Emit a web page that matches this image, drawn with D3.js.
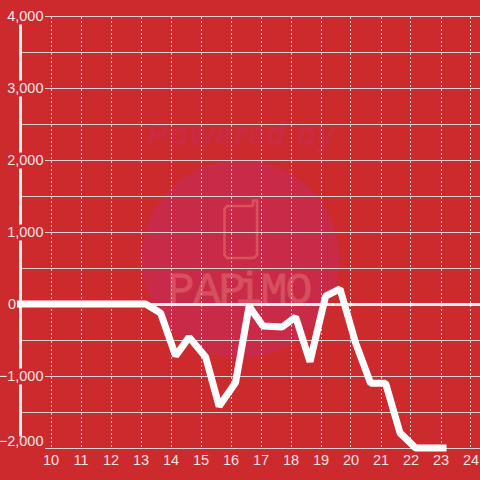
<!DOCTYPE html>
<html><head><meta charset="utf-8">
<script src="https://cdnjs.cloudflare.com/ajax/libs/d3/7.8.5/d3.min.js"></script>
<style>html,body{margin:0;padding:0;background:#cc2a2d}svg{display:block}</style>
</head><body><div id="c"></div>
<script>
const times=[8.88,9.67,10.17,10.67,11.17,11.67,12.17,12.67,13.17,13.67,14.17,14.62,15.17,15.62,16.17,16.62,17.08,17.72,18.17,18.65,19.17,19.65,20.17,20.67,21.17,21.65,22.17,22.67,23.2];
const values=[0,0,0,0,0,0,0,0,0,-125,-720,-460,-735,-1420,-1090,-30,-305,-320,-180,-800,110,210,-540,-1100,-1100,-1790,-2000,-2000,-2000];
const xTicks=[10,11,12,13,14,15,16,17,18,19,20,21,22,23,24];
const yLabelled=[4000,3000,2000,1000,0,-1000,-2000];
const yGrid=[3500,2500,1500,500,-500,-1500];
const watermarkTop="Powered by", watermarkName="PAPiMO";
const nameCentres=[181,207,232,249,274,299];
const BG="#cc2a2d",GRID="#d3d3cf",TXT="#f8e4e4",SANS="'Liberation Sans',Arial,sans-serif";
const W=480,H=480;
const x=d3.scaleLinear().domain([9,24.67]).range([20.5,490.6]);
const y=d3.scaleLinear().domain([-2000,4000]).range([448,16]);
const svg=d3.select("#c").append("svg").attr("width",W).attr("height",H);
svg.append("rect").attr("width",W).attr("height",H).attr("fill",BG);

// watermark
const wm=svg.append("g");
wm.append("text").attr("x",241).attr("y",145).attr("text-anchor","middle").attr("font-size",31).attr("font-weight","bold").attr("font-style","italic").style("font-family",SANS).attr("fill","#ca2a42").attr("textLength",187).text(watermarkTop);
wm.append("circle").attr("cx",240.5).attr("cy",259).attr("r",99).attr("fill","#c92a47");
wm.append("path").attr("d",d3.line()([[253,206],[253,200.5],[257,200.5],[257,255],[254,258],[227,258],[224.5,255],[224.5,209],[227,206],[253,206]])).attr("fill","none").attr("stroke","#d9535f").attr("stroke-width",2.5);
wm.append("text").attr("x",nameCentres.join(" ")).attr("y",303).attr("text-anchor","middle").attr("font-size",45).style("font-family","'Liberation Mono',monospace").attr("fill","#d6505f").attr("stroke","#d6505f").attr("stroke-width",0.8).text(watermarkName);

// grid
svg.append("g").selectAll("line").data(xTicks).join("line").attr("x1",d=>Math.round(x(d))+.5).attr("x2",d=>Math.round(x(d))+.5).attr("y1",17).attr("y2",448).attr("stroke",GRID).attr("stroke-dasharray","2,2");
const hg=svg.append("g");
hg.selectAll("line").data(yGrid.concat(yLabelled.filter(d=>d!==0))).join("line").attr("x1",21).attr("x2",W).attr("y1",d=>Math.round(y(d))+.5).attr("y2",d=>Math.round(y(d))+.5).attr("stroke",GRID);

// baselines
svg.append("rect").attr("x",19).attr("y",16).attr("width",3).attr("height",432).attr("fill","#f6efef");
svg.append("rect").attr("x",20).attr("y",303).attr("width",460).attr("height",3).attr("fill","#f6efef");

// axes
const ya=svg.append("g").attr("transform","translate(43.5,0)").call(d3.axisLeft(y).tickValues(yLabelled).tickFormat(d3.format(",")).tickSize(0).tickPadding(0));
ya.select(".domain").remove();
ya.selectAll("text").attr("font-size",14.5).attr("fill",TXT).style("font-family",SANS);
ya.selectAll(".tick").filter(d=>d===0).select("text").attr("x",-27.5);
ya.selectAll(".tick").filter(d=>d===-2000).select("text").attr("y",-7);
ya.selectAll(".tick").each(function(d){
  const t=d3.select(this), b=t.select("text").node().getBBox();
  const top=d===-2000?-12:-8, h=d===-2000?13:16;
  t.insert("rect","text").attr("x",b.x-1).attr("y",top).attr("width",b.width+2.5).attr("height",h).attr("fill",BG);
});
const xa=svg.append("g").attr("transform","translate(0,448)").call(d3.axisBottom(x).tickValues(xTicks).tickFormat(d3.format("d")).tickSize(0).tickPadding(7));
xa.select(".domain").remove();
xa.selectAll("text").attr("font-size",14.5).attr("fill",TXT).style("font-family",SANS);

// series
svg.append("path").datum(d3.zip(times,values)).attr("fill","none").attr("stroke","#fff").attr("stroke-width",7).attr("stroke-linejoin","bevel")
 .attr("d",d3.line().x(d=>x(d[0])).y(d=>y(d[1])));
</script></body></html>
